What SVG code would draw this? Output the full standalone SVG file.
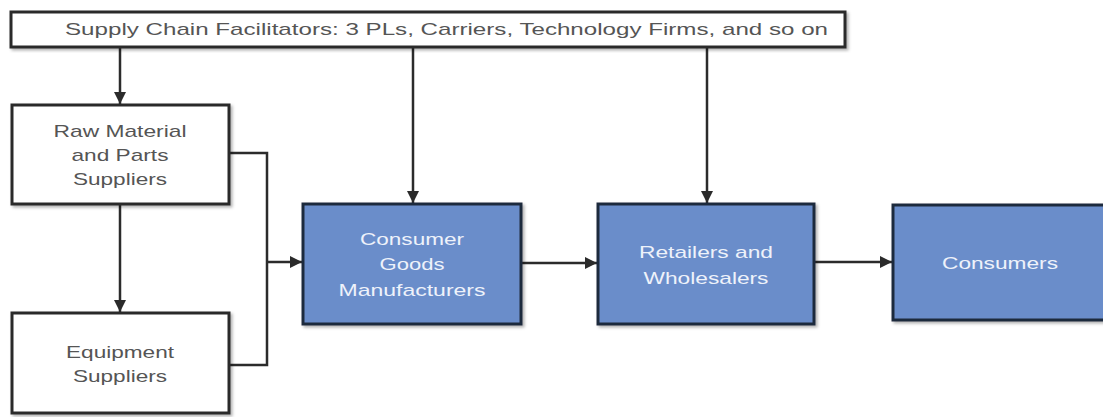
<svg xmlns="http://www.w3.org/2000/svg" width="1103" height="417" viewBox="0 0 1103 417">
<style>
.wbox{fill:#ffffff;stroke:#2b2b2b;stroke-width:3}
.bbox{fill:#6a8dca;stroke:#1e2a3c;stroke-width:3}
.wt{font-family:"Liberation Sans",Arial,sans-serif;font-size:17px;fill:#555555;text-anchor:middle}
.bt{font-family:"Liberation Sans",Arial,sans-serif;font-size:17px;fill:#eef2fa;text-anchor:middle}
.ln{fill:none;stroke:#2b2b2b;stroke-width:2.5}
</style>
<defs>
<marker id="ah" viewBox="0 0 10 10" refX="10" refY="5" markerWidth="5" markerHeight="5" markerUnits="strokeWidth" orient="auto">
<path d="M0,0 L10,5 L0,10 z" fill="#2b2b2b"/>
</marker>
<filter id="sh" x="-5%" y="-5%" width="115%" height="120%">
<feDropShadow dx="2" dy="2" stdDeviation="1.5" flood-color="#000" flood-opacity="0.3"/>
</filter>
</defs>
<g id="connectors">
<path class="ln" d="M120,47 V104" marker-end="url(#ah)"/>
<path class="ln" d="M413,47 V203" marker-end="url(#ah)"/>
<path class="ln" d="M707,47 V203" marker-end="url(#ah)"/>
<path class="ln" d="M120,204 V312" marker-end="url(#ah)"/>
<path class="ln" d="M229,153 H267 V365 H229"/>
<path class="ln" d="M267,262 H302" marker-end="url(#ah)"/>
<path class="ln" d="M521,263 H597" marker-end="url(#ah)"/>
<path class="ln" d="M814,262 H892" marker-end="url(#ah)"/>
</g>
<g id="facilitators">
<rect class="wbox" x="11" y="12" width="834" height="35" filter="url(#sh)"/>
<text class="wt" x="446.5" y="35" font-size="18" textLength="763" lengthAdjust="spacingAndGlyphs">Supply Chain Facilitators: 3 PLs, Carriers, Technology Firms, and so on</text>
</g>
<g id="raw">
<rect class="wbox" x="12" y="105" width="217" height="99" filter="url(#sh)"/>
<text class="wt" x="120" y="137" textLength="133" lengthAdjust="spacingAndGlyphs">Raw Material</text>
<text class="wt" x="120" y="161" textLength="97" lengthAdjust="spacingAndGlyphs">and Parts</text>
<text class="wt" x="120" y="185" textLength="94" lengthAdjust="spacingAndGlyphs">Suppliers</text>
</g>
<g id="equipment">
<rect class="wbox" x="12" y="313" width="217" height="100" filter="url(#sh)"/>
<text class="wt" x="120" y="358" textLength="108" lengthAdjust="spacingAndGlyphs">Equipment</text>
<text class="wt" x="120" y="382" textLength="94" lengthAdjust="spacingAndGlyphs">Suppliers</text>
</g>
<g id="manufacturers">
<rect class="bbox" x="303" y="204" width="218" height="120" filter="url(#sh)"/>
<text class="bt" x="412" y="245" textLength="104" lengthAdjust="spacingAndGlyphs">Consumer</text>
<text class="bt" x="412" y="270" textLength="65" lengthAdjust="spacingAndGlyphs">Goods</text>
<text class="bt" x="412" y="296" textLength="147" lengthAdjust="spacingAndGlyphs">Manufacturers</text>
</g>
<g id="retailers">
<rect class="bbox" x="598" y="204" width="216" height="120" filter="url(#sh)"/>
<text class="bt" x="706" y="258" textLength="134" lengthAdjust="spacingAndGlyphs">Retailers and</text>
<text class="bt" x="706" y="284" textLength="125" lengthAdjust="spacingAndGlyphs">Wholesalers</text>
</g>
<g id="consumers">
<rect class="bbox" x="893" y="205" width="216" height="115" filter="url(#sh)"/>
<text class="bt" x="1000" y="269" textLength="116" lengthAdjust="spacingAndGlyphs">Consumers</text>
</g>
</svg>
